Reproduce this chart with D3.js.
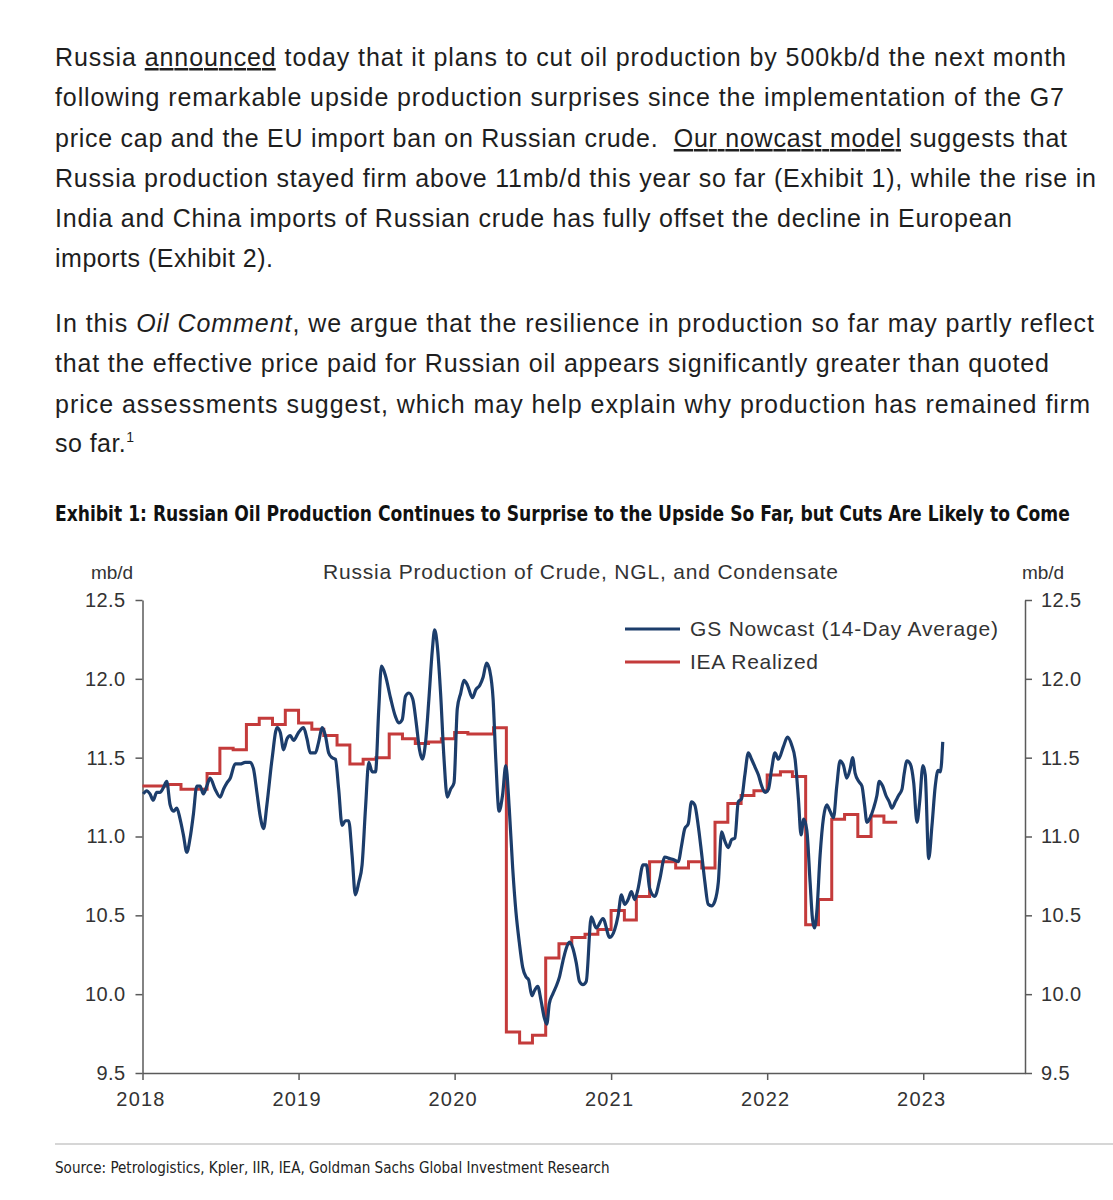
<!DOCTYPE html>
<html><head><meta charset="utf-8">
<script src="https://cdn.jsdelivr.net/npm/d3@7"></script>
<style>
body{margin:0;background:#fff}
svg text{white-space:pre}
</style>
</head><body>
<svg id="c" width="1113" height="1200"></svg>
<script>
// ---------------- DATA ----------------
const tickYears = [2018, 2019, 2020, 2021, 2022, 2023];
const yTicks = [9.5, 10.0, 10.5, 11.0, 11.5, 12.0, 12.5];

const ieaMonths = [
 "2018-01","2018-02","2018-03","2018-04","2018-05","2018-06","2018-07","2018-08","2018-09","2018-10","2018-11","2018-12",
 "2019-01","2019-02","2019-03","2019-04","2019-05","2019-06","2019-07","2019-08","2019-09","2019-10","2019-11","2019-12",
 "2020-01","2020-02","2020-03","2020-04","2020-05","2020-06","2020-07","2020-08","2020-09","2020-10","2020-11","2020-12",
 "2021-01","2021-02","2021-03","2021-04","2021-05","2021-06","2021-07","2021-08","2021-09","2021-10","2021-11","2021-12",
 "2022-01","2022-02","2022-03","2022-04","2022-05","2022-06","2022-07","2022-08","2022-09","2022-10"];
const ieaValues = [
 11.32,11.32,11.33,11.30,11.30,11.40,11.56,11.55,11.71,11.75,11.71,11.80,
 11.72,11.68,11.64,11.58,11.46,11.49,11.50,11.65,11.62,11.59,11.60,11.62,
 11.66,11.65,11.65,11.69,9.76,9.69,9.74,10.23,10.32,10.36,10.38,10.41,
 10.53,10.47,10.62,10.84,10.84,10.80,10.84,10.80,11.09,11.21,11.26,11.29,
 11.39,11.41,11.38,10.44,10.60,11.11,11.14,11.00,11.13,11.09];

// GS Nowcast, dates as decimal years
const nowcastDates = [
 2018.005,2018.027,2018.048,2018.069,2018.091,2018.112,2018.134,2018.155,2018.177,2018.198,
 2018.220,2018.241,2018.262,2018.284,2018.305,2018.326,2018.348,2018.369,2018.390,2018.412,
 2018.433,2018.465,2018.498,2018.519,2018.541,2018.562,2018.594,2018.626,2018.658,2018.690,
 2018.711,2018.733,2018.754,2018.776,2018.797,2018.830,2018.862,2018.883,2018.904,2018.926,
 2018.947,2018.968,2019.000,2019.032,2019.054,2019.075,2019.108,2019.129,2019.151,2019.172,
 2019.193,2019.215,2019.236,2019.257,2019.279,2019.300,2019.321,2019.343,2019.364,2019.386,
 2019.407,2019.429,2019.450,2019.472,2019.493,2019.514,2019.531,2019.557,2019.589,2019.621,
 2019.642,2019.664,2019.685,2019.707,2019.732,2019.754,2019.775,2019.793,2019.814,2019.835,
 2019.857,2019.872,2019.889,2019.910,2019.931,2019.953,2019.974,2019.996,2020.017,2020.039,
 2020.060,2020.082,2020.114,2020.135,2020.161,2020.182,2020.204,2020.225,2020.246,2020.263,
 2020.284,2020.306,2020.327,2020.349,2020.371,2020.392,2020.413,2020.435,2020.456,2020.473,
 2020.494,2020.509,2020.531,2020.552,2020.573,2020.589,2020.605,2020.627,2020.649,2020.670,
 2020.692,2020.713,2020.734,2020.756,2020.777,2020.798,2020.820,2020.841,2020.873,2020.905,
 2020.948,2020.991,2021.023,2021.045,2021.066,2021.087,2021.109,2021.130,2021.151,2021.173,
 2021.205,2021.226,2021.247,2021.280,2021.312,2021.344,2021.376,2021.408,2021.430,2021.451,
 2021.472,2021.494,2021.515,2021.536,2021.558,2021.579,2021.601,2021.622,2021.644,2021.665,
 2021.687,2021.708,2021.729,2021.751,2021.772,2021.793,2021.815,2021.836,2021.857,2021.879,
 2021.900,2021.922,2021.944,2021.965,2021.986,2022.008,2022.029,2022.050,2022.072,2022.104,
 2022.130,2022.157,2022.179,2022.200,2022.217,2022.234,2022.254,2022.275,2022.290,2022.303,
 2022.318,2022.339,2022.361,2022.382,2022.403,2022.425,2022.446,2022.467,2022.489,2022.510,
 2022.532,2022.547,2022.564,2022.586,2022.607,2022.624,2022.639,2022.660,2022.682,2022.703,
 2022.718,2022.740,2022.761,2022.782,2022.799,2022.821,2022.842,2022.864,2022.878,2022.896,
 2022.917,2022.939,2022.960,2022.977,2022.998,2023.013,2023.035,2023.056,2023.077,2023.095,
 2023.110,2023.125];
const nowcastValues = [
 11.27,11.29,11.27,11.23,11.28,11.28,11.31,11.35,11.20,11.16,
 11.18,11.11,11.01,10.90,10.99,11.14,11.32,11.32,11.27,11.32,
 11.37,11.30,11.25,11.30,11.34,11.37,11.46,11.46,11.47,11.47,
 11.43,11.28,11.13,11.05,11.20,11.49,11.69,11.66,11.55,11.62,
 11.64,11.61,11.66,11.69,11.62,11.53,11.53,11.60,11.69,11.64,
 11.53,11.50,11.49,11.30,11.07,11.10,11.10,10.88,10.63,10.71,
 10.82,11.18,11.47,11.41,11.41,11.81,12.08,12.02,11.88,11.76,
 11.72,11.74,11.89,11.91,11.87,11.72,11.55,11.49,11.60,11.87,
 12.18,12.31,12.21,11.91,11.51,11.25,11.30,11.34,11.81,11.91,
 11.99,11.96,11.88,11.93,11.96,12.01,12.10,12.05,11.87,11.49,
 11.16,11.26,11.45,11.18,10.80,10.52,10.33,10.17,10.11,10.09,
 9.99,10.02,10.05,9.96,9.85,9.81,9.94,10.00,10.05,10.11,
 10.21,10.29,10.33,10.29,10.20,10.08,10.06,10.08,10.49,10.42,
 10.48,10.36,10.41,10.50,10.63,10.57,10.60,10.65,10.60,10.67,
 10.82,10.82,10.67,10.62,10.73,10.87,10.86,10.85,10.84,10.94,
 11.05,11.08,11.22,11.20,11.07,10.90,10.71,10.57,10.56,10.59,
 10.71,11.03,10.97,10.93,10.98,10.99,11.22,11.24,11.39,11.53,
 11.49,11.44,11.39,11.32,11.28,11.30,11.43,11.53,11.49,11.57,
 11.63,11.58,11.49,11.24,11.01,11.11,11.04,10.71,10.48,10.42,
 10.52,10.88,11.12,11.20,11.16,11.12,11.32,11.48,11.45,11.37,
 11.43,11.50,11.40,11.35,11.32,11.20,11.09,11.12,11.18,11.26,
 11.35,11.32,11.26,11.22,11.18,11.22,11.26,11.30,11.40,11.48,
 11.46,11.34,11.09,11.22,11.45,11.39,10.86,11.07,11.32,11.42,
 11.41,11.60];

const seriesNames = ["GS Nowcast (14-Day Average)", "IEA Realized"];
const seriesColors = ["#1c3d6b", "#c43b3b"];

// ---------------- HELPERS ----------------
function decToDate(d) {
  const yr = Math.floor(d);
  const a = new Date(yr, 0, 1), b = new Date(yr + 1, 0, 1);
  return new Date(a.getTime() + (d - yr) * (b - a));
}
const parseMonth = d3.timeParse("%Y-%m");

const svg = d3.select("#c");
const FONT = "'Liberation Sans', Arial, Helvetica, sans-serif";
const NARROW = "'Liberation Sans Narrow', 'DejaVu Sans Condensed', 'Liberation Sans', sans-serif";

// fit a text element horizontally to a target width using a transform
function fitWidth(sel, x0, y0, target) {
  const w = sel.node().getComputedTextLength();
  sel.attr("x", 0).attr("y", 0)
    .attr("transform", `translate(${x0},${y0}) scale(${target / w},1)`);
}

// ---------------- BODY TEXT ----------------
const para = [
  {y: 66, w: 1011, segs: [["Russia "], ["announced","u"], [" today that it plans to cut oil production by 500kb/d the next month"]]},
  {y: 106, w: 1009, segs: [["following remarkable upside production surprises since the implementation of the G7"]]},
  {y: 147, w: 1012, segs: [["price cap and the EU import ban on Russian crude.  "], ["Our nowcast model","u"], [" suggests that"]]},
  {y: 187, w: 1041, segs: [["Russia production stayed firm above 11mb/d this year so far (Exhibit 1), while the rise in"]]},
  {y: 227, w: 957, segs: [["India and China imports of Russian crude has fully offset the decline in European"]]},
  {y: 267, w: 218, segs: [["imports (Exhibit 2)."]]},
  {y: 332, w: 1039, segs: [["In this "], ["Oil Comment","i"], [", we argue that the resilience in production so far may partly reflect"]]},
  {y: 372, w: 994, segs: [["that the effective price paid for Russian oil appears significantly greater than quoted"]]},
  {y: 413, w: 1035, segs: [["price assessments suggest, which may help explain why production has remained firm"]]},
  {y: 452, w: 79, segs: [["so far."], ["1","sup"]]}
];
para.forEach(l => {
  const t = svg.append("text").attr("x", 55).attr("y", l.y)
    .attr("font-family", FONT).attr("font-size", 25).attr("fill", "#1e1e1e")
    .attr("textLength", l.w).attr("lengthAdjust", "spacing");
  l.segs.forEach(s => {
    const ts = t.append("tspan").text(s[0]);
    if (s[1] === "u") ts.style("text-decoration", "underline");
    if (s[1] === "i") ts.attr("font-style", "italic");
    if (s[1] === "sup") ts.attr("font-size", 14).attr("dy", -10);
  });
});

// ---------------- TITLE ----------------
const title = svg.append("text")
  .attr("font-family", NARROW).attr("font-weight", "bold").attr("font-size", 21)
  .attr("fill", "#111")
  .text("Exhibit 1: Russian Oil Production Continues to Surprise to the Upside So Far, but Cuts Are Likely to Come");
fitWidth(title, 55, 521, 1015);

// ---------------- CHART ----------------
const x = d3.scaleTime().domain([new Date(2018,0,1), new Date(2023,7,27)]).range([142.5, 1025]);
const y = d3.scaleLinear().domain([9.5, 12.5]).range([1073, 600]);
const axisColor = "#5a5a5a";

function styleAxis(g, fs, ls) {
  g.selectAll("path.domain").attr("stroke", axisColor).attr("stroke-width", 1.5);
  g.selectAll(".tick line").attr("stroke", axisColor).attr("stroke-width", 1.5);
  g.selectAll(".tick text").attr("fill", "#333").attr("font-family", FONT)
    .attr("font-size", fs).attr("letter-spacing", ls);
}
const gl = svg.append("g").attr("transform", "translate(142.5,0)")
  .call(d3.axisLeft(y).tickValues(yTicks).tickFormat(d3.format(".1f")).tickSize(7).tickSizeOuter(0).tickPadding(10));
styleAxis(gl, 20, 0.4);
const gr = svg.append("g").attr("transform", "translate(1025,0)")
  .call(d3.axisRight(y).tickValues(yTicks).tickFormat(d3.format(".1f")).tickSize(7).tickSizeOuter(0).tickPadding(9));
styleAxis(gr, 20, 0.4);
const gb = svg.append("g").attr("transform", "translate(0,1073)")
  .call(d3.axisBottom(x).tickValues(tickYears.map(v => new Date(v,0,1))).tickFormat(d3.timeFormat("%Y")).tickSize(7).tickSizeOuter(0).tickPadding(12));
styleAxis(gb, 20, 1.2);
gb.selectAll(".tick text").attr("dx", -2);

// unit labels & subtitle
svg.append("text").attr("x", 112).attr("y", 579).attr("text-anchor", "middle")
  .attr("font-family", FONT).attr("font-size", 19).attr("fill", "#333").text("mb/d");
svg.append("text").attr("x", 1043).attr("y", 579).attr("text-anchor", "middle")
  .attr("font-family", FONT).attr("font-size", 19).attr("fill", "#333").text("mb/d");
svg.append("text").attr("x", 323).attr("y", 579)
  .attr("font-family", FONT).attr("font-size", 21).attr("fill", "#333")
  .attr("textLength", 515).attr("lengthAdjust", "spacing")
  .text("Russia Production of Crude, NGL, and Condensate");

// IEA step line
const iea = ieaMonths.map((m, i) => ({d: parseMonth(m), v: ieaValues[i]}));
iea.push({d: d3.timeMonth.offset(iea[iea.length-1].d, 1), v: ieaValues[ieaValues.length-1]});
svg.append("path").datum(iea)
  .attr("fill", "none").attr("stroke", seriesColors[1]).attr("stroke-width", 3)
  .attr("d", d3.line().x(d => x(d.d)).y(d => y(d.v)).curve(d3.curveStepAfter));

// Nowcast line
const now = nowcastDates.map((d, i) => ({d: decToDate(d), v: nowcastValues[i]}));
svg.append("path").datum(now)
  .attr("fill", "none").attr("stroke", seriesColors[0]).attr("stroke-width", 3.2)
  .attr("stroke-linejoin", "round")
  .attr("d", d3.line().x(d => x(d.d)).y(d => y(d.v)).curve(d3.curveMonotoneX));

// Legend
const legendW = [308, 128];
seriesNames.forEach((n, i) => {
  const ly = 629 + i * 33;
  svg.append("line").attr("x1", 625).attr("x2", 680).attr("y1", ly).attr("y2", ly)
    .attr("stroke", seriesColors[i]).attr("stroke-width", 3);
  svg.append("text").attr("x", 690).attr("y", ly + 7)
    .attr("font-family", FONT).attr("font-size", 21).attr("fill", "#333")
    .attr("textLength", legendW[i]).attr("lengthAdjust", "spacing").text(n);
});

// Separator & source
svg.append("line").attr("x1", 55).attr("x2", 1113).attr("y1", 1144).attr("y2", 1144)
  .attr("stroke", "#c8c8c8").attr("stroke-width", 1.5);
const src = svg.append("text")
  .attr("font-family", NARROW).attr("font-size", 16).attr("fill", "#222")
  .text("Source: Petrologistics, Kpler, IIR, IEA, Goldman Sachs Global Investment Research");
fitWidth(src, 55, 1173, 555);
</script>
</body></html>
